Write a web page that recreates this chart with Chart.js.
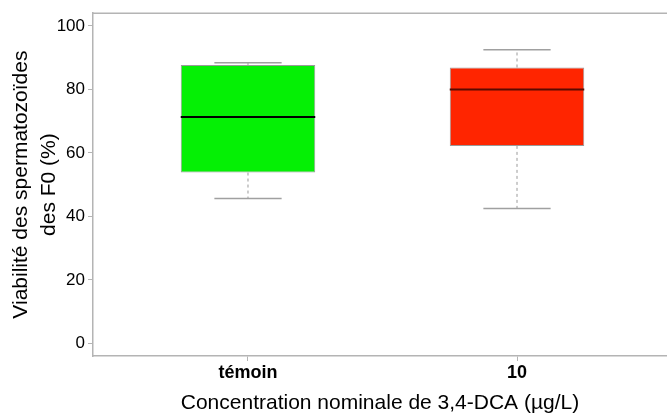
<!DOCTYPE html>
<html>
<head>
<meta charset="utf-8">
<script src="https://cdn.jsdelivr.net/npm/chart.js@4"></script>
<style>
  body { margin: 0; background: #fff; }
  #wrap { width: 667px; height: 416px; position: relative; overflow: hidden; }
</style>
</head>
<body>
<div id="wrap"><canvas id="box_chart"></canvas></div>
<script>
// données
const groups = ['témoin', '10'];
const whiskerLow = [45.6, 42.5];
const q1 = [53.8, 62.2];
const median = [71.3, 80.0];
const q3 = [87.7, 86.9];
const whiskerHigh = [88.4, 92.5];
const yTicks = [0, 20, 40, 60, 80, 100];
const boxColors = ['#05f005', '#ff2500'];

const gray = '#b4b4b4';
Chart.defaults.font.family = '"Liberation Sans", Arial, sans-serif';
Chart.defaults.color = '#000';

// moustaches, médianes et cadre du haut
const boxplotExtras = {
  id: 'boxplotExtras',
  beforeDatasetsDraw(chart) {
    const { ctx, chartArea, scales: { x, y } } = chart;
    ctx.save();
    ctx.strokeStyle = gray;
    ctx.lineWidth = 1.5;
    ctx.beginPath();
    ctx.moveTo(chartArea.left, chartArea.top);
    ctx.lineTo(chartArea.right, chartArea.top);
    ctx.stroke();

    groups.forEach((g, i) => {
      const cx = x.getPixelForValue(i + 1);
      const half = (x.getPixelForValue(i + 1.125) - cx);
      ctx.strokeStyle = '#9a9a9a';
      ctx.lineWidth = 1;
      ctx.setLineDash([3, 3]);
      ctx.beginPath();
      ctx.moveTo(cx, y.getPixelForValue(q3[i]));
      ctx.lineTo(cx, y.getPixelForValue(whiskerHigh[i]));
      ctx.moveTo(cx, y.getPixelForValue(q1[i]));
      ctx.lineTo(cx, y.getPixelForValue(whiskerLow[i]));
      ctx.stroke();
      ctx.setLineDash([]);
      ctx.strokeStyle = '#a0a0a0';
      ctx.lineWidth = 1.5;
      ctx.beginPath();
      ctx.moveTo(cx - half, y.getPixelForValue(whiskerHigh[i]));
      ctx.lineTo(cx + half, y.getPixelForValue(whiskerHigh[i]));
      ctx.moveTo(cx - half, y.getPixelForValue(whiskerLow[i]));
      ctx.lineTo(cx + half, y.getPixelForValue(whiskerLow[i]));
      ctx.stroke();
    });
    ctx.restore();
  },
  afterDatasetsDraw(chart) {
    const { ctx, scales: { x, y } } = chart;
    ctx.save();
    groups.forEach((g, i) => {
      const l = x.getPixelForValue(i + 0.75);
      const r = x.getPixelForValue(i + 1.25);
      const my = y.getPixelForValue(median[i]);
      ctx.strokeStyle = i === 0 ? '#000' : '#5a0a00';
      ctx.lineWidth = 2;
      ctx.beginPath();
      ctx.moveTo(l, my);
      ctx.lineTo(r, my);
      ctx.stroke();
    });
    ctx.restore();
  }
};

const ctx = document.getElementById('box_chart');
new Chart(ctx, {
  type: 'bar',
  data: {
    datasets: [{
      data: groups.map((g, i) => ({ x: i + 1, y: [q1[i], q3[i]] })),
      backgroundColor: boxColors,
      borderColor: '#9a9a9a',
      borderWidth: 1,
      borderSkipped: false,
      categoryPercentage: 1,
      barPercentage: 0.5
    }]
  },
  plugins: [boxplotExtras],
  options: {
    responsive: true,
    maintainAspectRatio: false,
    animation: false,
    layout: { padding: { top: 10, left: 0, right: 0, bottom: 0 } },
    plugins: {
      legend: { display: false },
      tooltip: { enabled: false }
    },
    scales: {
      x: {
        type: 'linear',
        offset: false,
        min: 0.4238,
        max: 2.5576,
        afterBuildTicks: (scale) => { scale.ticks = groups.map((g, i) => ({ value: i + 1 })); },
        afterFit: (scale) => { scale.height = 60; },
        ticks: {
          autoSkip: false,
          maxRotation: 0,
          padding: 1,
          font: { size: 18, weight: 'bold' },
          callback: (v) => groups[v - 1]
        },
        grid: { offset: false, drawOnChartArea: false, tickLength: 5, color: gray, lineWidth: 1 },
        border: { color: gray, width: 1.5 },
        title: {
          display: true,
          text: 'Concentration nominale de 3,4-DCA (µg/L)',
          font: { size: 21 },
          padding: { top: 0, bottom: 0 }
        }
      },
      y: {
        min: -4,
        max: 104,
        afterBuildTicks: (scale) => { scale.ticks = yTicks.map((v) => ({ value: v })); },
        afterFit: (scale) => { scale.width = 93; },
        ticks: { font: { size: 17 }, padding: 3 },
        grid: { drawOnChartArea: false, tickLength: 5, color: gray, lineWidth: 1 },
        border: { color: gray, width: 1.5 },
        title: {
          display: true,
          text: ['Viabilité des spermatozoïdes', 'des F0 (%)'],
          font: { size: 21, lineHeight: 1.3 },
          padding: { top: 8, bottom: 0 }
        }
      }
    }
  }
});
</script>
</body>
</html>
